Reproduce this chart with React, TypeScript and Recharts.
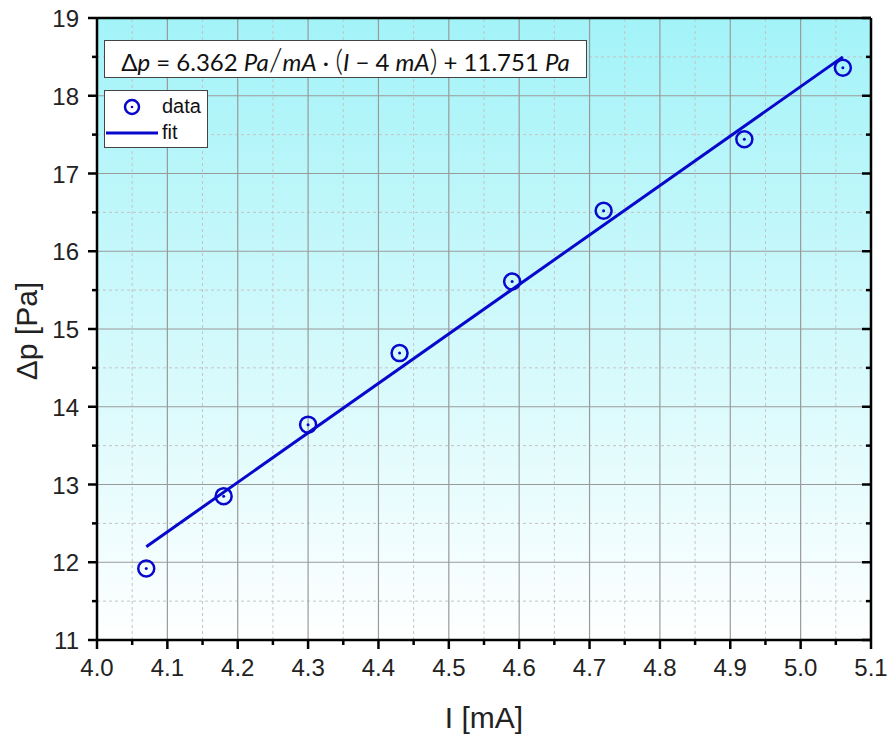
import React from "react";
import {
  ComposedChart,
  Scatter,
  Line,
  XAxis,
  YAxis,
  CartesianGrid,
  ReferenceLine,
} from "recharts";

// measured current vs pressure difference
const currentMA = [4.07, 4.18, 4.3, 4.43, 4.59, 4.72, 4.92, 5.06];
const deltaP = [11.92, 12.85, 13.77, 14.69, 15.61, 16.52, 17.44, 18.36];

// linear fit, endpoints
const fitX = [4.07, 5.06];
const fitY = [12.2, 18.5];

const xMajor = [4.0, 4.1, 4.2, 4.3, 4.4, 4.5, 4.6, 4.7, 4.8, 4.9, 5.0, 5.1];
const xMinor = [4.05, 4.15, 4.25, 4.35, 4.45, 4.55, 4.65, 4.75, 4.85, 4.95, 5.05];
const yMajor = [11, 12, 13, 14, 15, 16, 17, 18, 19];
const yMinor = [11.5, 12.5, 13.5, 14.5, 15.5, 16.5, 17.5, 18.5];

const BLUE = "#0808cc";
const FONT = "'Liberation Sans', Arial, sans-serif";

const points = currentMA.map((x, i) => ({ x, y: deltaP[i] }));
const fitLine = fitX.map((x, i) => ({ x, y: fitY[i] }));

const isMajor = (list: number[], v: number) => list.some((m) => Math.abs(m - v) < 1e-6);

const BottomTick = (props: any) => {
  const { x, y, payload } = props;
  const major = isMajor(xMajor, payload.value);
  return (
    <g>
      <line x1={x} x2={x} y1={y} y2={y + (major ? 9 : 5)} stroke="#000" strokeWidth={2.5} />
      {major && (
        <text x={x} y={y + 36} textAnchor="middle" fontSize={24} fill="#222" fontFamily={FONT}>
          {payload.value.toFixed(1)}
        </text>
      )}
    </g>
  );
};

const LeftTick = (props: any) => {
  const { x, y, payload } = props;
  const major = isMajor(yMajor, payload.value);
  return (
    <g>
      <line x1={x} x2={x - (major ? 9 : 5)} y1={y} y2={y} stroke="#000" strokeWidth={2.5} />
      {major && (
        <text x={x - 18} y={y + 9} textAnchor="end" fontSize={24} fill="#222" fontFamily={FONT}>
          {payload.value}
        </text>
      )}
    </g>
  );
};

const TopTick = (props: any) => {
  const { x, y, payload } = props;
  const major = isMajor(xMajor, payload.value);
  return <line x1={x} x2={x} y1={y} y2={y + (major ? 9 : 5)} stroke="#000" strokeWidth={2.5} />;
};

const RightTick = (props: any) => {
  const { x, y, payload } = props;
  const major = isMajor(yMajor, payload.value);
  return <line x1={x} x2={x - (major ? 9 : 5)} y1={y} y2={y} stroke="#000" strokeWidth={2.5} />;
};

const DotMarker = (props: any) => {
  const { cx, cy } = props;
  return (
    <g>
      <circle cx={cx} cy={cy} r={8} fill="none" stroke={BLUE} strokeWidth={2.5} />
      <circle cx={cx} cy={cy} r={1.5} fill={BLUE} />
    </g>
  );
};

const LegendBox = () => (
  <div
    style={{
      position: "absolute",
      left: 104,
      top: 90,
      width: 102,
      height: 56,
      background: "#fff",
      border: "1px solid #444",
      fontFamily: FONT,
      fontSize: 20,
      color: "#111",
    }}
  >
    <svg width={56} height={56} style={{ position: "absolute", left: 0, top: 0 }}>
      <circle cx={27} cy={16} r={7} fill="none" stroke={BLUE} strokeWidth={2.5} />
      <circle cx={27} cy={16} r={1.3} fill={BLUE} />
      <line x1={1} x2={53} y1={42} y2={42} stroke={BLUE} strokeWidth={3} />
    </svg>
    <div style={{ position: "absolute", left: 57, top: 3, lineHeight: "24px" }}>data</div>
    <div style={{ position: "absolute", left: 57, top: 29, lineHeight: "24px" }}>fit</div>
  </div>
);

export default function App() {
  return (
    <div style={{ position: "absolute", left: 0, top: 0, width: 889, height: 740, background: "#fff" }}>
      <ComposedChart width={889} height={740} margin={{ top: 18, right: 18, bottom: 0, left: 0 }}>
        <defs>
          <linearGradient id="bgGrad" x1="0" y1="0" x2="0" y2="1">
            <stop offset="0%" stopColor="#a2f3f8" />
            <stop offset="100%" stopColor="#ffffff" />
          </linearGradient>
        </defs>
        <CartesianGrid horizontal={false} vertical={false} fill="url(#bgGrad)" />
        {xMinor.map((v) => (
          <ReferenceLine key={"xm" + v} x={v} stroke="#c4c4c4" strokeDasharray="3 3" />
        ))}
        {yMinor.map((v) => (
          <ReferenceLine key={"ym" + v} y={v} stroke="#c4c4c4" strokeDasharray="3 3" />
        ))}
        {xMajor.slice(1, -1).map((v) => (
          <ReferenceLine key={"xM" + v} x={v} stroke="#9a9a9a" strokeWidth={1.2} />
        ))}
        {yMajor.slice(1, -1).map((v) => (
          <ReferenceLine key={"yM" + v} y={v} stroke="#9a9a9a" strokeWidth={1.2} />
        ))}
        <XAxis
          type="number"
          dataKey="x"
          domain={[4.0, 5.1]}
          allowDataOverflow
          ticks={[...xMajor, ...xMinor]}
          interval={0}
          height={100}
          tickSize={0}
          tickMargin={0}
          tickLine={false}
          tick={<BottomTick />}
          axisLine={{ stroke: "#000", strokeWidth: 2.5 }}
          label={(p: any) => {
            const vb = p.viewBox;
            return (
              <text x={vb.x + vb.width / 2} y={vb.y + 88} textAnchor="middle" fontSize={30} fill="#222" fontFamily={FONT}>
                I [mA]
              </text>
            );
          }}
        />
        <XAxis
          xAxisId="top"
          orientation="top"
          type="number"
          domain={[4.0, 5.1]}
          allowDataOverflow
          ticks={[...xMajor, ...xMinor]}
          interval={0}
          mirror
          height={1}
          tickSize={0}
          tickMargin={0}
          tickLine={false}
          tick={<TopTick />}
          axisLine={{ stroke: "#000", strokeWidth: 2.5 }}
        />
        <YAxis
          type="number"
          domain={[11, 19]}
          allowDataOverflow
          ticks={[...yMajor, ...yMinor]}
          interval={0}
          width={97}
          tickSize={0}
          tickMargin={0}
          tickLine={false}
          tick={<LeftTick />}
          axisLine={{ stroke: "#000", strokeWidth: 2.5 }}
          label={(p: any) => {
            const vb = p.viewBox;
            const cx = vb.x + 37;
            const cy = vb.y + vb.height / 2 + 2;
            return (
              <text x={cx} y={cy} transform={`rotate(-90 ${cx} ${cy})`} textAnchor="middle" fontSize={30} fill="#222" fontFamily={FONT}>
                Δp [Pa]
              </text>
            );
          }}
        />
        <YAxis
          yAxisId="right"
          orientation="right"
          type="number"
          domain={[11, 19]}
          allowDataOverflow
          ticks={[...yMajor, ...yMinor]}
          interval={0}
          mirror
          width={1}
          tickSize={0}
          tickMargin={0}
          tickLine={false}
          tick={<RightTick />}
          axisLine={{ stroke: "#000", strokeWidth: 2.5 }}
        />
        <Line
          data={fitLine}
          dataKey="y"
          stroke={BLUE}
          strokeWidth={3}
          dot={false}
          activeDot={false}
          isAnimationActive={false}
          name="fit"
        />
        <Scatter data={points} dataKey="y" shape={<DotMarker />} isAnimationActive={false} name="data" />
      </ComposedChart>
      <LegendBox />
      <div
        style={{
          position: "absolute",
          left: 104,
          top: 40,
          width: 481,
          height: 36,
          background: "#fff",
          border: "1px solid #444",
          fontFamily: "Lato, 'Open Sans', sans-serif",
          fontSize: 24,
          lineHeight: "36px",
          color: "#111",
          whiteSpace: "nowrap",
          textAlign: "center",
        }}
      >
        Δ<i>p</i> = 6.362 <i>Pa</i>
        <span style={{ fontSize: 32, fontWeight: 300 }}>/</span>
        <i>mA</i> · <span style={{ fontSize: 30, fontWeight: 300 }}>(</span>
        <i>I</i> − 4 <i>mA</i>
        <span style={{ fontSize: 30, fontWeight: 300 }}>)</span> + 11.751 <i>Pa</i>
      </div>
    </div>
  );
}
